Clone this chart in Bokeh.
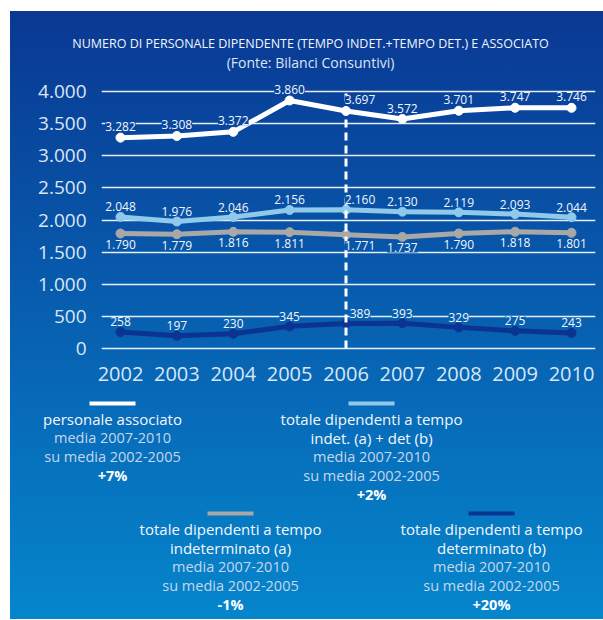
from bokeh.plotting import figure
from bokeh.models import Range1d, FixedTicker
from bokeh.core.properties import value
from bokeh.embed import file_html
from bokeh.resources import INLINE

# ---------------- data ----------------
years = [2002, 2003, 2004, 2005, 2006, 2007, 2008, 2009, 2010]
split_year = 2006
associato = [3282, 3308, 3372, 3860, 3697, 3572, 3701, 3747, 3746]
tot_ab = [2048, 1976, 2046, 2156, 2160, 2130, 2119, 2093, 2044]
indet_a = [1790, 1779, 1816, 1811, 1771, 1737, 1790, 1818, 1801]
det_b = [258, 197, 230, 345, 389, 393, 329, 275, 243]
y_ticks = [0, 500, 1000, 1500, 2000, 2500, 3000, 3500, 4000]
y_tick_labels = ["0", "500", "1.000", "1.500", "2.000", "2.500", "3.000", "3.500", "4.000"]
x_tick_labels = ["2002", "2003", "2004", "2005", "2006", "2007", "2008", "2009", "2010"]

title_text = "NUMERO DI PERSONALE DIPENDENTE (TEMPO INDET.+TEMPO DET.) E ASSOCIATO"
subtitle_text = "(Fonte: Bilanci Consuntivi)"
legend_names = [["personale associato"],
                ["totale dipendenti a tempo", "indet. (a) + det (b)"],
                ["totale dipendenti a tempo", "indeterminato (a)"],
                ["totale dipendenti a tempo", "determinato (b)"]]
legend_note = ["media 2007-2010", "su media 2002-2005"]
legend_change = ["+7%", "+2%", "-1%", "+20%"]

# ---------------- style / layout ----------------
FONT = value("Open Sans")
PANEL_X, PANEL_Y = 10, 11
W = 593
TITLE_H, CHART_H, LEG_H = 64, 320, 224
TOTAL_H = TITLE_H + CHART_H + LEG_H
TOP_RGB, BOT_RGB = (10, 56, 147), (5, 134, 204)

C_WHITE = "#ffffff"
C_LIGHT = "#8fc9ec"
C_GRAY = "#a8a8a8"
C_DARK = "#0b3492"


def grad(py):
    t = min(max(py / TOTAL_H, 0), 1)
    r, g, b = [int(round(a + (c - a) * t)) for a, c in zip(TOP_RGB, BOT_RGB)]
    return "#%02x%02x%02x" % (r, g, b)


def bg_style(top, bottom):
    return {"background": "linear-gradient(180deg, %s 0%%, %s 100%%)" % (grad(top), grad(bottom))}


def fmt(v):
    return f"{v:,}".replace(",", ".")


def text_fig(height, top, margin):
    f = figure(width=W, height=height, x_range=Range1d(0, W), y_range=Range1d(height, 0),
               min_border=0, toolbar_location=None, output_backend="svg",
               x_axis_location=None, y_axis_location=None,
               background_fill_color=None, border_fill_color=None, outline_line_color=None,
               margin=margin, styles=bg_style(top, top + height))
    f.grid.visible = False
    return f


# ---------------- title figure ----------------
tf = text_fig(TITLE_H, 0, (PANEL_Y, 0, 0, PANEL_X))
tf.text(x=[300], y=[32], text=[title_text], text_align="center", text_baseline="middle",
        text_font=FONT, text_font_size="12.5px", text_color="#f2f6fb")
tf.text(x=[300], y=[51], text=[subtitle_text], text_align="center", text_baseline="middle",
        text_font=FONT, text_font_size="14px", text_color="#dbe6f4")

# ---------------- chart figure ----------------
FR_LEFT, FR_RIGHT, FR_BOTTOM = 91, 8, 43
x0, x1 = 2001.663, 2010.4257
y0, y1 = -62, 4249
p = figure(width=W, height=CHART_H, x_range=Range1d(x0, x1), y_range=Range1d(y0, y1),
           min_border_left=FR_LEFT, min_border_right=FR_RIGHT, min_border_top=0,
           min_border_bottom=FR_BOTTOM, toolbar_location=None, output_backend="svg",
           background_fill_color=None, border_fill_color=None, outline_line_color=None,
           margin=(0, 0, 0, PANEL_X), styles=bg_style(TITLE_H, TITLE_H + CHART_H))

p.xgrid.visible = False
p.ygrid.ticker = FixedTicker(ticks=y_ticks)
p.ygrid.grid_line_color = "white"
p.ygrid.grid_line_width = 1.3
p.ygrid.grid_line_alpha = 0.9

p.yaxis.ticker = FixedTicker(ticks=y_ticks)
p.yaxis.major_label_overrides = {t: l for t, l in zip(y_ticks, y_tick_labels)}
p.xaxis.ticker = FixedTicker(ticks=years)
p.xaxis.major_label_overrides = {t: l for t, l in zip(years, x_tick_labels)}
for ax in (p.xaxis[0], p.yaxis[0]):
    ax.axis_line_color = None
    ax.major_tick_line_color = None
    ax.minor_tick_line_color = None
    ax.major_label_text_color = "#dbe6f4"
    ax.major_label_text_font = "Open Sans"
p.yaxis.major_label_text_font_size = "19px"
p.yaxis.major_label_standoff = 9
p.xaxis.major_label_text_font_size = "20px"
p.xaxis.major_label_standoff = 8

series = [
    (det_b, C_DARK, -10),
    (indet_a, C_GRAY, 11),
    (tot_ab, C_LIGHT, -10),
    (associato, C_WHITE, -11),
]

for vals, col, _ in series:
    p.line(years, vals, line_width=5, line_color=col, line_join="round", line_cap="round")
    p.scatter(years, vals, size=9, color=col)

p.segment(x0=[split_year], y0=[y_ticks[0]], x1=[split_year], y1=[y_ticks[-1]],
          line_color="white", line_width=3, line_dash="8 5")

px_per_unit = (CHART_H - FR_BOTTOM) / (y1 - y0)
for vals, col, off in series:
    bgs = [grad(TITLE_H + (y1 - v) * px_per_unit + off) for v in vals]
    xoffs = [14 if yr == split_year else 0 for yr in years]
    p.text(x=years, y=vals, text=[fmt(v) for v in vals], text_align="center",
           text_baseline="middle", x_offset=xoffs, y_offset=off,
           text_font=FONT, text_font_size="12px", text_color="#f2f6fb",
           background_fill_color=bgs)

# ---------------- legend figure ----------------
lf = text_fig(LEG_H, TITLE_H + CHART_H, (0, 0, 0, PANEL_X))

blocks = [  # (center x, swatch y, first text y) in legend-panel pixels, colour
    (102, 8, 23, C_WHITE),
    (361, 8, 23, C_LIGHT),
    (220, 118, 133, C_GRAY),
    (481, 118, 133, C_DARK),
]
LINE = 19
SW = 46
for (cx, sy, ty, col), names, chg in zip(blocks, legend_names, legend_change):
    lf.segment(x0=[cx - SW / 2], y0=[sy], x1=[cx + SW / 2], y1=[sy], line_color=col, line_width=4)
    rows = []
    for n in names:
        rows.append((n, "#f4f7fb", "normal", "15px"))
    for n in legend_note:
        rows.append((n, "#c6d7ec", "normal", "14.5px"))
    rows.append((chg, "#ffffff", "bold", "14.5px"))
    for i, (txt, tc, st, fs) in enumerate(rows):
        lf.text(x=[cx], y=[ty + i * LINE], text=[txt], text_align="center",
                text_baseline="middle", text_font=FONT, text_font_size=fs,
                text_color=tc, text_font_style=st)

open("out.html", "w").write(file_html([tf, p, lf], INLINE))
